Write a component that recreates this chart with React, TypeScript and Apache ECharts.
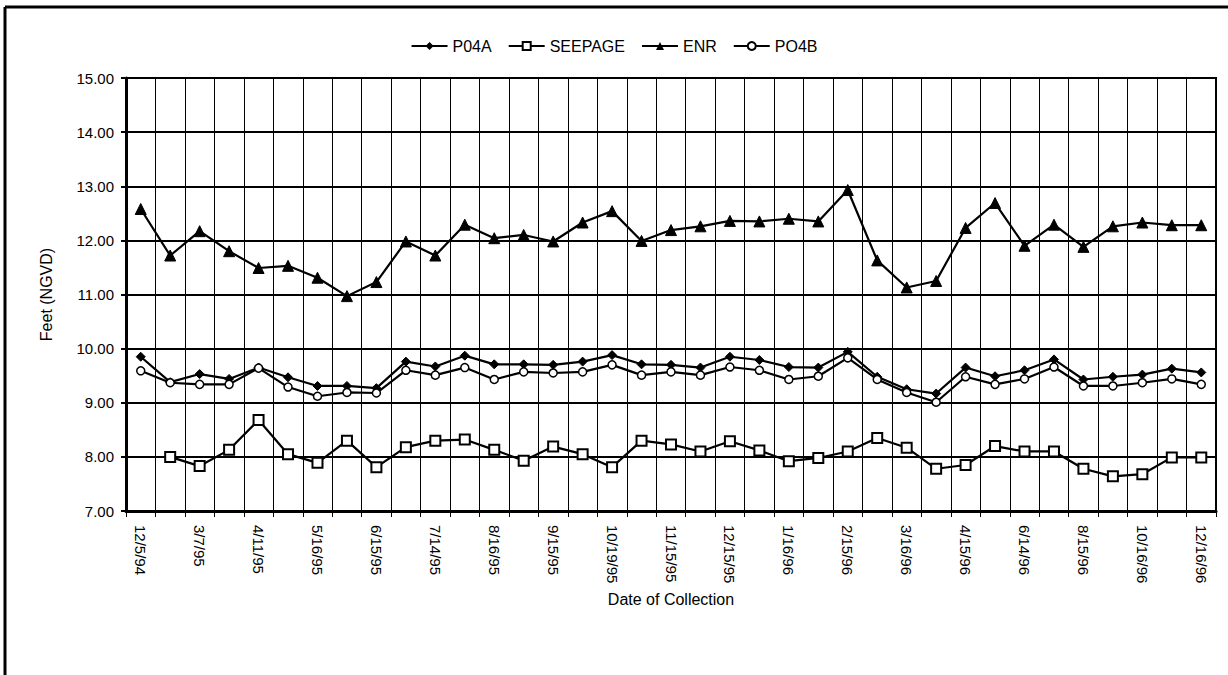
import React, { useEffect, useRef } from "react";
import * as echarts from "echarts";

const categories = [
  "12/5/94", "1/18/95", "3/7/95", "3/21/95", "4/11/95", "4/26/95", "5/16/95", "5/31/95",
  "6/15/95", "6/29/95", "7/14/95", "7/31/95", "8/16/95", "8/31/95", "9/15/95", "10/2/95",
  "10/19/95", "10/31/95", "11/15/95", "11/30/95", "12/15/95", "12/29/95", "1/16/96", "1/31/96",
  "2/15/96", "2/29/96", "3/16/96", "3/29/96", "4/15/96", "5/15/96", "6/14/96", "7/15/96",
  "8/15/96", "9/16/96", "10/16/96", "11/15/96", "12/16/96",
];

const p04a = [
  9.85, 9.38, 9.53, 9.44, 9.65, 9.47, 9.31, 9.31, 9.27, 9.76, 9.67, 9.87, 9.71, 9.71, 9.70, 9.76,
  9.88, 9.71, 9.70, 9.65, 9.85, 9.79, 9.66, 9.65, 9.94, 9.48, 9.25, 9.17, 9.65, 9.49, 9.60, 9.80,
  9.43, 9.48, 9.52, 9.63, 9.56,
];

const seepage = [
  null, 8.0, 7.83, 8.13, 8.68, 8.05, 7.89, 8.3, 7.81, 8.18, 8.3, 8.32, 8.13, 7.93, 8.19, 8.05,
  7.81, 8.3, 8.23, 8.1, 8.29, 8.12, 7.92, 7.98, 8.1, 8.35, 8.17, 7.78, 7.85, 8.2, 8.1, 8.1,
  7.78, 7.64, 7.68, 7.99, 7.99,
];

const enr = [
  12.58, 11.72, 12.17, 11.8, 11.49, 11.53, 11.31, 10.97, 11.23, 11.98, 11.72, 12.29, 12.04, 12.1,
  11.98, 12.33, 12.54, 11.99, 12.19, 12.26, 12.36, 12.35, 12.4, 12.35, 12.93, 11.63, 11.13, 11.25,
  12.23, 12.69, 11.9, 12.29, 11.88, 12.26, 12.33, 12.28, 12.28,
];

const po4b = [
  9.59, 9.37, 9.34, 9.34, 9.64, 9.29, 9.12, 9.19, 9.18, 9.6, 9.51, 9.65, 9.43, 9.57, 9.55, 9.57,
  9.7, 9.51, 9.57, 9.51, 9.66, 9.6, 9.43, 9.49, 9.83, 9.43, 9.19, 9.01, 9.48, 9.34, 9.44, 9.66,
  9.31, 9.31, 9.37, 9.44, 9.34,
];

const FONT = "'Liberation Sans', Arial, Helvetica, sans-serif";

export default function App() {
  const ref = useRef<HTMLDivElement>(null);

  useEffect(() => {
    document.body.style.margin = "0";
    const chart = echarts.init(ref.current!, null, { renderer: "svg" });
    const lineStyle = { color: "#000", width: 2.2 };
    chart.setOption({
      animation: false,
      backgroundColor: "#fff",
      textStyle: { fontFamily: FONT, color: "#000" },
      legend: {
        top: 33,
        left: "center",
        itemWidth: 36,
        itemHeight: 10,
        itemGap: 16,
        textStyle: { fontSize: 16, color: "#000", fontFamily: FONT },
        data: ["P04A", "SEEPAGE", "ENR", "PO4B"],
      },
      grid: {
        left: 126,
        right: 12,
        top: 78,
        bottom: 164,
        show: true,
        borderColor: "#000",
        borderWidth: 2,
        containLabel: false,
      },
      xAxis: {
        type: "category",
        data: categories,
        boundaryGap: true,
        name: "Date of Collection",
        nameLocation: "middle",
        nameGap: 80,
        nameTextStyle: { fontSize: 16, color: "#000", fontFamily: FONT },
        axisLine: { lineStyle: { color: "#000", width: 3 } },
        axisTick: { show: true, interval: 0, length: 6, lineStyle: { color: "#000", width: 1 } },
        axisLabel: {
          interval: 1,
          rotate: -90,
          margin: 14,
          fontSize: 15,
          color: "#000",
          fontFamily: FONT,
        },
        splitLine: { show: true, interval: 0, lineStyle: { color: "#000", width: 1 } },
      },
      yAxis: {
        type: "value",
        min: 7,
        max: 15,
        interval: 1,
        name: "Feet (NGVD)",
        nameLocation: "middle",
        nameGap: 72,
        nameTextStyle: { fontSize: 16, color: "#000", fontFamily: FONT },
        axisLine: { show: true, lineStyle: { color: "#000", width: 3 } },
        axisTick: { show: true, length: 5, lineStyle: { color: "#000", width: 2 } },
        axisLabel: {
          fontSize: 15,
          color: "#000",
          margin: 12,
          fontFamily: FONT,
          formatter: (v: number) => v.toFixed(2),
        },
        splitLine: { show: true, lineStyle: { color: "#000", width: 2 } },
      },
      graphic: [
        { type: "line", shape: { x1: 5, y1: 7, x2: 1228, y2: 7 }, style: { stroke: "#000", lineWidth: 3 } },
        { type: "line", shape: { x1: 5, y1: 7, x2: 5, y2: 675 }, style: { stroke: "#000", lineWidth: 3 } },
      ],
      series: [
        {
          name: "P04A",
          type: "line",
          data: p04a,
          symbol: "diamond",
          symbolSize: 9,
          itemStyle: { color: "#000", borderColor: "#000" },
          lineStyle,
          z: 3,
        },
        {
          name: "SEEPAGE",
          type: "line",
          data: seepage,
          symbol: "rect",
          symbolSize: 10,
          showAllSymbol: true,
          itemStyle: { color: "#fff", borderColor: "#000", borderWidth: 2 },
          lineStyle,
          z: 3,
        },
        {
          name: "ENR",
          type: "line",
          data: enr,
          symbol: "triangle",
          symbolSize: 11,
          itemStyle: { color: "#000", borderColor: "#000" },
          lineStyle,
          z: 3,
        },
        {
          name: "PO4B",
          type: "line",
          data: po4b,
          symbol: "circle",
          symbolSize: 8,
          itemStyle: { color: "#fff", borderColor: "#000", borderWidth: 1.5 },
          lineStyle,
          z: 4,
        },
      ],
    });
    return () => chart.dispose();
  }, []);

  return (
    <div
      ref={ref}
      style={{ position: "absolute", left: 0, top: 0, width: 1228, height: 675, background: "#fff" }}
    />
  );
}
